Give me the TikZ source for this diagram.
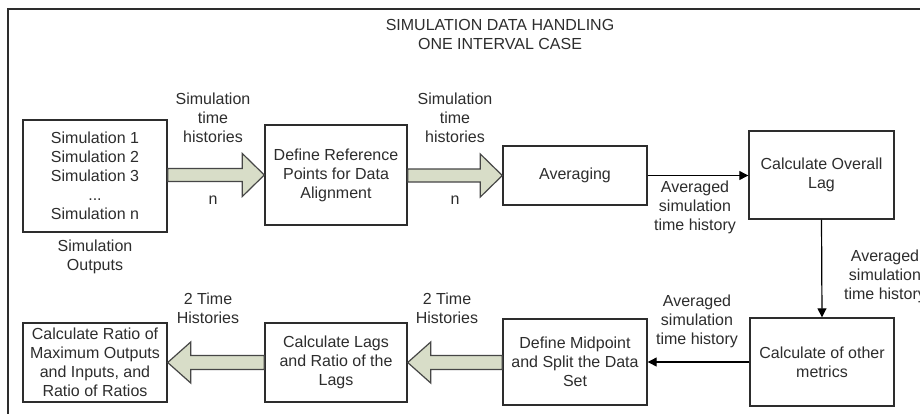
\documentclass[tikz,border=0pt]{standalone}
\usepackage{fontspec}
\setmainfont{Liberation Sans}
\usetikzlibrary{calc,arrows.meta}
\definecolor{ink}{RGB}{45,45,45}
\definecolor{fatfill}{RGB}{216,221,200}
\definecolor{fatline}{RGB}{70,70,70}
\newcommand\fatright[2]{%
  \draw[fatarrow] ($(#1.east |- #2.west)+(0,-6.5)$) -- ($(#2.west)+(-22,-6.5)$) -- ($(#2.west)+(-22,-21.5)$) -- (#2.west) -- ($(#2.west)+(-22,21.5)$) -- ($(#2.west)+(-22,6.5)$) -- ($(#1.east |- #2.west)+(0,6.5)$) -- cycle;}
\newcommand\fatleft[2]{%
  \draw[fatarrow] ($(#1.west |- #2.east)+(0,-7)$) -- ($(#2.east)+(23,-7)$) -- ($(#2.east)+(23,-20.5)$) -- (#2.east) -- ($(#2.east)+(23,20.5)$) -- ($(#2.east)+(23,7)$) -- ($(#1.west |- #2.east)+(0,7)$) -- cycle;}
\begin{document}
\begin{tikzpicture}[x=1pt,y=-1pt,
  every node/.style={font=\fontsize{16}{19}\selectfont, text=ink, inner sep=0pt},
  box/.style={draw=ink, line width=1.4pt, fill=white, align=center},
  lbl/.style={align=center},
  fatarrow/.style={draw=fatline, line width=1.2pt, fill=fatfill, line join=miter},
  thin/.style={draw=black, line width=1.2pt, -{Triangle[length=9pt,width=9pt]}}
]
\clip (0,0) rectangle (920,413);
\fill[white] (0,0) rectangle (920,413);
\draw[line width=2pt, ink] (950,9) -- (8,9) -- (8,440);

\node[lbl] (title) at (500,34.5) {SIMULATION DATA HANDLING\\ONE INTERVAL CASE};

% boxes
\node[box, minimum width=144, minimum height=112] (sim) at (95,176) {Simulation 1\\Simulation 2\\Simulation 3\\...\\Simulation n};
\node[box, minimum width=142, minimum height=100] (ref) at (336,175) {Define Reference\\Points for Data\\Alignment};
\node[box, minimum width=144, minimum height=59] (avg) at (575,175.5) {Averaging};
\node[box, minimum width=145, minimum height=88] (lag) at (821.5,175) {Calculate Overall\\Lag};
\node[box, minimum width=144, minimum height=88] (met) at (822,362) {Calculate of other\\metrics};
\node[box, minimum width=144, minimum height=86] (mid) at (575,362) {Define Midpoint\\and Split the Data\\Set};
\node[box, minimum width=142, minimum height=79] (lags) at (336,362.5) {Calculate Lags\\and Ratio of the\\Lags};
\node[box, minimum width=144, minimum height=79] (fin) at (95,362.5) {Calculate Ratio of\\Maximum Outputs\\and Inputs, and\\Ratio of Ratios};

% labels
\node[lbl] (simout) at (95,257) {Simulation\\Outputs};
\node[lbl] (l1) at (213,118) {Simulation\\time\\histories};
\node[lbl] (n1) at (213,200) {n};
\node[lbl] (l2) at (455,118) {Simulation\\time\\histories};
\node[lbl] (n2) at (455,200) {n};
\node[lbl] (l3) at (695,207) {Averaged\\simulation\\time history};
\node[lbl] (l4) at (885,276) {Averaged\\simulation\\time history};
\node[lbl] (l5) at (697,321) {Averaged\\simulation\\time history};
\node[lbl] (l6) at (447,308) {2 Time\\Histories};
\node[lbl] (l7) at (208,308) {2 Time\\Histories};

% connectors
\fatright{sim}{ref}
\fatright{ref}{avg}
\fatleft{mid}{lags}
\fatleft{lags}{fin}
\draw[thin] (avg.east) -- (lag.west |- avg.east);
\draw[thin] (lag.south) -- (met.north);
\draw[thin] (met.west) -- (mid.east);
\end{tikzpicture}
\end{document}
